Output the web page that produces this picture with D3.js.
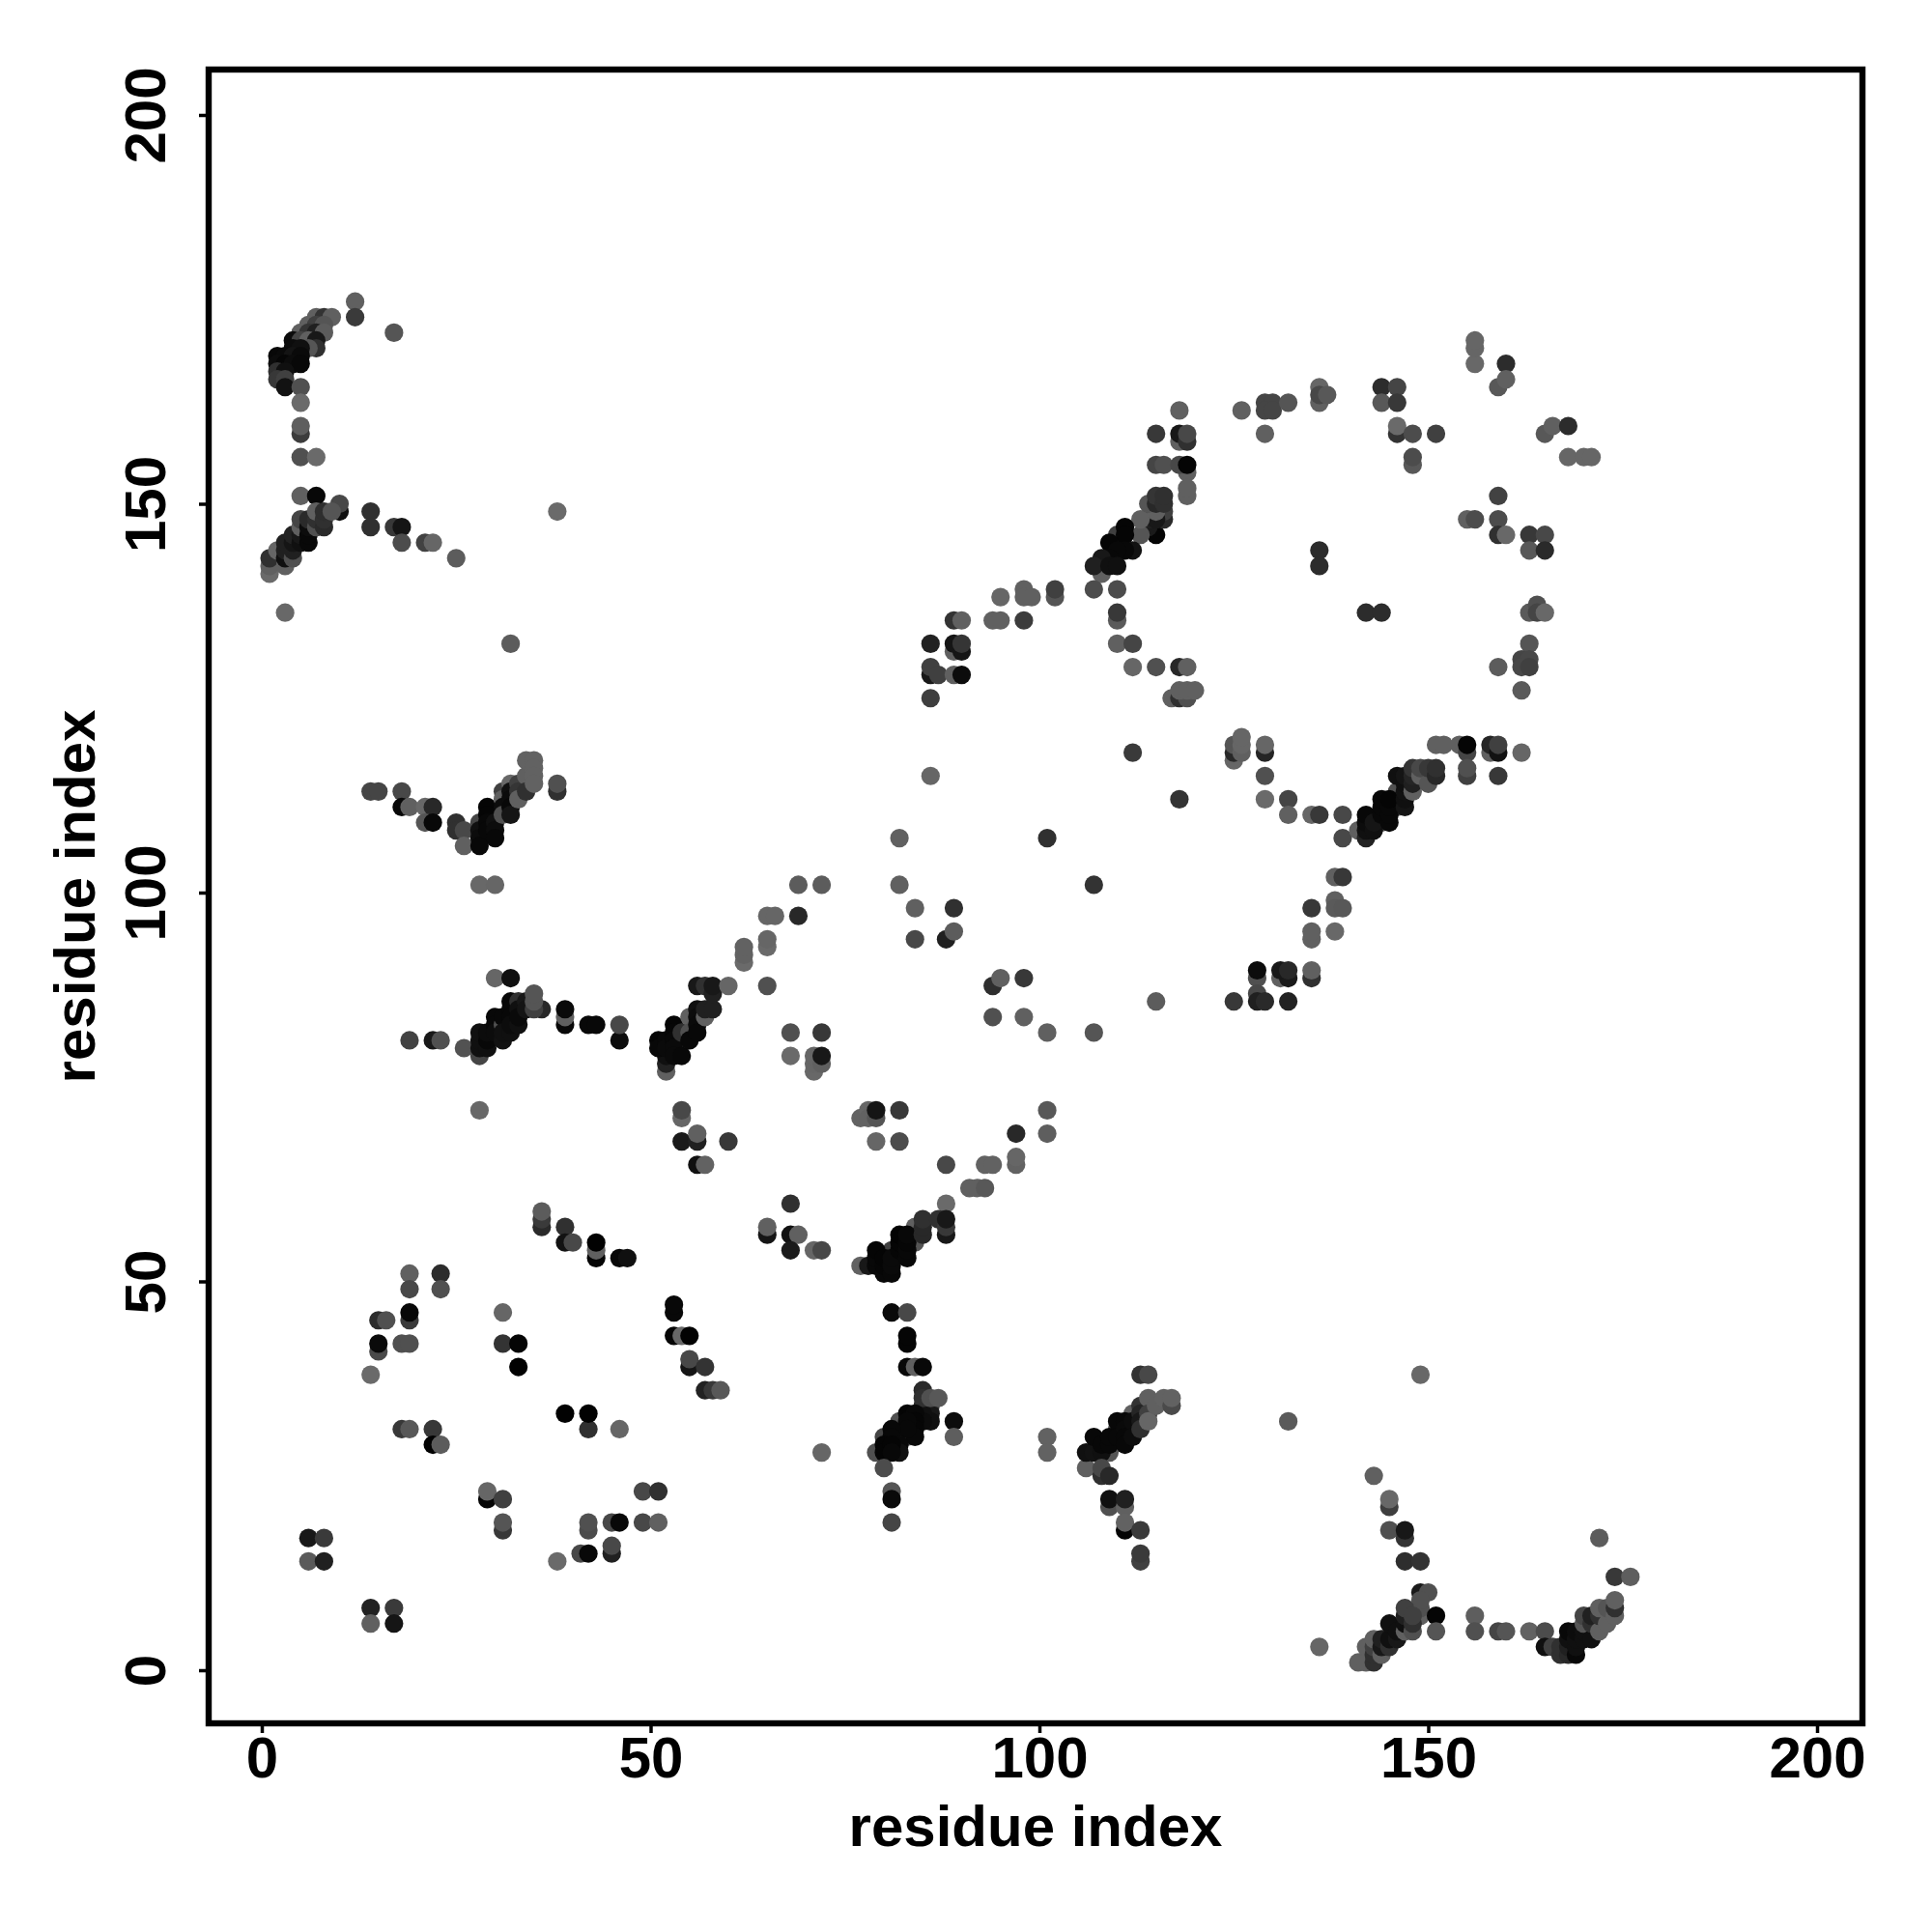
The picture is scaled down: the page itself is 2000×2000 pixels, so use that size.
<!DOCTYPE html>
<html>
<head>
<meta charset="utf-8">
<script src="https://cdn.jsdelivr.net/npm/d3@7"></script>
<style>html,body{margin:0;padding:0;background:#fff}svg{display:block}</style>
</head>
<body>
<div id="chart"></div>
<script>
// Each contact: [residue i, residue j, grey level of the dot]
const contactsTopLeft = [
[12,176,0x60],[12,174,0x3a],[17,172,0x55],[7,174,0x60],[8,174,0x33],[9,174,0x60],[6,173,0x60],[7,173,0x40],[8,173,0x55],
[5,172,0x60],[6,172,0x35],[7,172,0x20],[8,172,0x5c],[4,171,0x0c],[5,171,0x45],[6,171,0x60],[7,171,0x18],[7,170,0x30],[6,170,0x55],
[4,170,0x0c],[5,170,0x10],[2,169,0x08],[3,169,0x0a],[4,169,0x14],[5,169,0x0a],[2,168,0x0c],[3,168,0x06],[4,168,0x0c],[5,168,0x08],
[2,167,0x30],[3,167,0x10],[2,166,0x38],[3,166,0x40],[3,165,0x12],[5,165,0x50],[5,163,0x6a],[5,159,0x3c],[5,160,0x5e],[5,156,0x50],[7,156,0x6a],[5,151,0x60],[7,151,0x08],
[10,149,0x10],[10,150,0x48],[14,149,0x30],[14,147,0x30],[17,147,0x38],[18,147,0x15],[18,145,0x4c],[21,145,0x42],[22,145,0x66],[25,143,0x5c],[38,149,0x6a],[3,136,0x68],[32,132,0x5c],
[1,141,0x6a],[1,142,0x60],[1,143,0x30],[2,144,0x66],[3,142,0x60],[3,143,0x10],[3,144,0x20],[3,145,0x20],[4,143,0x50],[4,144,0x20],[4,145,0x15],[4,146,0x22],
[5,145,0x10],[5,146,0x18],[5,147,0x60],[5,148,0x45],[6,145,0x08],[6,146,0x08],[6,147,0x0c],[6,148,0x2a],[7,147,0x50],[7,148,0x30],[7,149,0x60],[8,147,0x2a],[8,148,0x30],[8,149,0x2e],[9,149,0x55]
];
const contactsUpperBand = [
[14,113,0x45],[15,113,0x45],[18,113,0x48],[18,111,0x08],[19,111,0x60],[21,111,0x68],[22,111,0x28],[21,109,0x55],[22,109,0x08],
[25,109,0x30],[25,108,0x30],[26,108,0x48],[26,106,0x60],[28,109,0x45],[28,108,0x10],[28,107,0x0c],[28,106,0x08],
[29,111,0x05],[29,110,0x05],[29,109,0x08],[29,108,0x08],[30,109,0x10],[30,108,0x0c],[30,107,0x08],[31,113,0x40],[31,112,0x60],[31,111,0x0c],[31,110,0x50],
[32,114,0x68],[32,113,0x10],[32,112,0x0c],[32,111,0x08],[32,110,0x15],[33,114,0x40],[33,113,0x35],[33,112,0x60],[34,115,0x60],[34,113,0x30],[34,117,0x62],[35,117,0x62],[35,116,0x62],[35,115,0x62],[35,114,0x62],
[38,113,0x30],[38,114,0x50],[28,101,0x68],[30,101,0x66]
];
const contactsMiddleBand = [
[19,81,0x42],[22,81,0x18],[23,81,0x50],[26,80,0x52],[28,79,0x45],[28,80,0x10],[28,81,0x10],[28,82,0x10],[29,80,0x10],[29,81,0x08],[29,82,0x0c],
[30,84,0x08],[30,83,0x08],[30,82,0x0c],[31,83,0x50],[31,84,0x08],[31,81,0x12],[31,82,0x10],[30,89,0x66],[32,89,0x10],[32,86,0x08],[32,85,0x08],[32,84,0x08],[32,82,0x10],[32,83,0x0c],
[33,86,0x30],[33,85,0x10],[33,83,0x10],[33,84,0x0a],[34,86,0x18],[34,85,0x14],[36,85,0x28],[35,85,0x40],[35,86,0x55],[35,87,0x55],
[39,83,0x08],[39,84,0x60],[39,85,0x0a],[42,83,0x08],[43,83,0x08],[46,81,0x0c],[46,83,0x48],
[52,77,0x60],[52,78,0x22],[52,79,0x10],[51,81,0x05],[51,80,0x08],[52,81,0x08],[52,80,0x0a],[53,83,0x05],[53,82,0x06],[53,81,0x08],[53,80,0x0a],[53,79,0x0a],[54,79,0x08],[54,82,0x30],
[55,84,0x60],[55,82,0x50],[55,81,0x08],[56,85,0x10],[56,84,0x0c],[56,83,0x0a],[56,82,0x08],[57,84,0x60],[57,85,0x20],[58,85,0x20],
[56,88,0x18],[57,88,0x30],[58,87,0x20],[58,88,0x18],[60,88,0x66],[62,91,0x6a],[62,92,0x62],[62,93,0x62],[65,93,0x6a],[65,94,0x66],[65,88,0x50],[65,97,0x66],[66,97,0x66],[69,97,0x28],[69,101,0x5c],[72,101,0x5c],
[68,82,0x50],[68,79,0x6a],[72,82,0x38],[71,77,0x68],[71,78,0x66],[71,79,0x66],[72,78,0x60],[72,79,0x18],
[28,72,0x68],[54,71,0x66],[54,72,0x48],[54,68,0x1a],[56,68,0x20],[56,69,0x60],[60,68,0x38],[56,65,0x10],[57,65,0x62]
];
const contactsMidCentre = [
[36,57,0x2a],[36,58,0x3a],[36,59,0x5c],[39,57,0x30],[39,55,0x12],[40,55,0x48],[43,53,0x05],[43,54,0x60],[43,55,0x02],[46,53,0x08],[47,53,0x10],
[68,60,0x30],[65,56,0x15],[65,57,0x60],[68,56,0x12],[69,56,0x60],[68,54,0x1a],[71,54,0x66],[72,54,0x48],
[77,71,0x62],[78,72,0x66],[78,71,0x62],[79,71,0x55],[79,72,0x15],[82,72,0x38],[79,68,0x66],[82,68,0x4c],[88,65,0x48],[93,65,0x62],[94,65,0x62],[97,69,0x28],[101,72,0x58],[101,69,0x5e],[97,65,0x62],[97,66,0x66],
[91,62,0x60],[92,62,0x60],[93,62,0x58],[88,60,0x6a],[77,52,0x62],[78,52,0x18],[81,54,0x40],[84,55,0x55],[84,57,0x60],[79,52,0x08],[79,53,0x08],[79,54,0x05],[80,51,0x08],[80,52,0x06],[80,53,0x05],[81,51,0x08],[81,52,0x0a],[81,53,0x0a],
[82,54,0x06],[82,55,0x05],[82,56,0x03],[83,53,0x08],[83,54,0x08],[83,55,0x06],[83,56,0x08],[85,56,0x28],[85,57,0x28],[85,58,0x30],[87,58,0x30],[88,56,0x18],[88,57,0x38],[88,58,0x18]
];
const contactsLowerLeft = [
[19,51,0x60],[23,51,0x2c],[19,49,0x48],[23,49,0x50],[19,45,0x3a],[19,46,0x08],[15,45,0x2c],[16,45,0x50],[15,41,0x4a],[15,42,0x0a],[18,42,0x50],[19,42,0x50],[14,38,0x6a],
[31,46,0x66],[31,42,0x33],[33,42,0x05],[33,39,0x02],[53,46,0x08],[53,47,0x08],[53,43,0x05],[54,43,0x68],[55,43,0x02],[55,39,0x15],[55,40,0x48],[57,39,0x33],[57,36,0x22],[58,36,0x38],[59,36,0x58],
[39,33,0x02],[42,31,0x30],[42,33,0x02],[46,31,0x66],[18,31,0x38],[19,31,0x58],[22,31,0x38],[22,29,0x02],[23,29,0x5c],[29,22,0x05],[29,23,0x66],[31,22,0x40],[31,18,0x38],[31,19,0x55],
[49,23,0x48],[51,23,0x30],[49,19,0x48],[51,19,0x60],[42,18,0x4c],[42,19,0x50],[45,19,0x48],[46,19,0x08],[45,15,0x20],[45,16,0x48],[41,15,0x48],[42,15,0x08],[38,14,0x6a],
[6,17,0x18],[8,17,0x3a],[6,14,0x5a],[8,14,0x20],[14,8,0x22],[17,8,0x3a],[14,6,0x60],[17,6,0x15]
];
const contactsLowerCentre = [
[81,46,0x0a],[83,46,0x48],[83,42,0x05],[83,43,0x05],[83,39,0x08],[84,39,0x60],[85,39,0x08],[85,36,0x2a],[85,34,0x30],[86,34,0x35],[86,33,0x18],[86,32,0x10],[85,33,0x10],[85,32,0x0c],[85,35,0x30],[86,35,0x50],[87,35,0x58],
[89,32,0x0c],[89,30,0x5e],[82,32,0x50],[83,30,0x55],[80,30,0x45],[79,28,0x50],[83,33,0x05],[84,33,0x08],[84,32,0x06],[84,31,0x06],[84,30,0x08],[83,32,0x08],[83,31,0x08],[81,31,0x08],[81,30,0x08],
[82,29,0x08],[82,28,0x10],[80,29,0x05],[80,28,0x05],[81,29,0x05],[81,28,0x08],[80,26,0x4c],[72,28,0x66],
[81,23,0x55],[81,22,0x0a],[81,19,0x45],[101,30,0x62],[101,28,0x62],[132,32,0x5a],
[106,26,0x60],[109,28,0x55],[110,31,0x50],[112,31,0x50],[112,33,0x60],[106,28,0x10],[107,28,0x12],[107,30,0x08],[108,28,0x10],[108,29,0x08],[108,25,0x30],[108,26,0x48],[109,25,0x28],[109,29,0x08],[109,30,0x08],
[110,32,0x08],[110,30,0x08],[111,32,0x08],[111,31,0x0a],[111,30,0x08],[111,29,0x08],[112,32,0x0c],[112,30,0x0c],
[113,34,0x33],[113,33,0x25],[113,32,0x18],[113,31,0x30],[114,35,0x60],[114,33,0x40],[114,32,0x66],[115,34,0x60],[116,35,0x62],[117,34,0x4a],[117,35,0x62],[113,38,0x33],[114,38,0x48],
[109,21,0x50],[109,22,0x10],[111,21,0x60],[111,22,0x20],[111,18,0x05],[111,19,0x62],[113,18,0x3a],[113,14,0x40],[113,15,0x3a]
];
const contactsLowerRight = [
[136,3,0x66],[143,25,0x60],[145,21,0x3e],[145,22,0x68],[145,18,0x50],[147,17,0x33],[147,18,0x18],[147,14,0x2e],[149,14,0x33],[149,10,0x1a],[150,10,0x50],[149,7,0x60],[149,8,0x50],[149,9,0x50],
[151,7,0x05],[151,5,0x55],[156,7,0x5e],[156,5,0x50],[159,5,0x45],[160,5,0x55],[163,5,0x62],[165,5,0x4c],[172,17,0x5c],[174,12,0x38],[176,12,0x5e],
[165,3,0x10],[166,3,0x40],[167,2,0x30],[167,3,0x30],[168,2,0x28],[168,3,0x20],[168,4,0x10],[168,5,0x08],[169,2,0x08],[169,3,0x10],[169,4,0x10],[169,5,0x0c],
[170,4,0x10],[170,5,0x10],[170,6,0x55],[170,7,0x45],[171,4,0x10],[171,6,0x30],[171,7,0x20],[172,5,0x60],[172,7,0x30],[172,8,0x60],[173,6,0x60],[173,8,0x55],[174,7,0x60],[174,8,0x30],[174,9,0x60],
[141,1,0x60],[142,1,0x60],[143,1,0x30],[142,3,0x60],[143,2,0x30],[143,3,0x40],[143,4,0x60],[144,2,0x60],[144,3,0x18],[144,4,0x20],[145,3,0x30],[145,4,0x10],[145,6,0x10],[146,4,0x18],[146,5,0x10],
[147,5,0x60],[147,6,0x10],[147,7,0x20],[147,8,0x40],[148,5,0x50],[148,6,0x30],[148,7,0x40]
];
const contactsRing = [
[118,162,0x60],[126,162,0x60],[129,163,0x45],[130,163,0x45],[129,162,0x45],[130,162,0x45],[132,163,0x55],[129,159,0x60],[136,165,0x66],[136,163,0x60],[136,164,0x48],[137,164,0x58],
[144,165,0x2c],[146,165,0x45],[144,163,0x58],[146,163,0x38],[146,159,0x33],[146,160,0x6a],[148,159,0x4c],[151,159,0x40],[148,155,0x58],[148,156,0x4c],
[156,168,0x68],[156,170,0x66],[156,171,0x66],[160,168,0x2c],[159,165,0x58],[160,166,0x60],[165,159,0x58],[166,160,0x60],[168,160,0x2c],[168,156,0x66],[170,156,0x66],[171,156,0x66],
[159,151,0x42],[155,148,0x60],[156,148,0x4c],[159,148,0x4c],[159,146,0x30],[160,146,0x68],[163,146,0x38],[165,146,0x48],[163,144,0x58],[165,144,0x2a],[136,144,0x2c],[136,142,0x2c],[142,136,0x2c],[144,136,0x2c],
[163,136,0x5a],[164,137,0x50],[164,136,0x45],[165,136,0x68],[163,132,0x55],[162,130,0x45],[163,130,0x48],[162,129,0x48],[163,129,0x40],[159,129,0x5c],[162,126,0x5a],
[118,158,0x60],[115,159,0x38],[118,159,0x18],[119,158,0x30],[119,159,0x48],[119,154,0x60],[115,155,0x45],[116,155,0x50],[118,155,0x48],[119,155,0x05],[119,151,0x60],[119,152,0x60],
[115,146,0x05],[116,148,0x2a],[116,149,0x40],[114,147,0x1a],[114,148,0x20],[115,148,0x18],[115,149,0x60],[113,146,0x55],[113,148,0x60],[114,150,0x55],[115,150,0x28],[115,151,0x35],[116,150,0x30],[116,151,0x30],
[110,146,0x40],[111,147,0x05],[111,146,0x05],[112,144,0x12],[111,144,0x08],[109,145,0x05],[110,144,0x08],[109,143,0x08],[108,141,0x60],[108,143,0x18],[107,142,0x20],[109,142,0x10],[110,142,0x10],
[102,138,0x55],[102,139,0x40],[107,139,0x4c],[110,139,0x4c],[110,135,0x5a],[110,136,0x38],[110,132,0x60],[112,132,0x45],[112,129,0x66],[115,129,0x50],[118,129,0x28],[119,129,0x60],
[117,125,0x60],[118,125,0x30],[119,125,0x50],[118,126,0x60],[119,126,0x60],[120,126,0x60],[112,118,0x3a],
[95,138,0x66],[98,139,0x60],[98,138,0x60],[99,138,0x60],[89,135,0x33],[90,135,0x60],[94,135,0x60],[95,135,0x60],[98,135,0x3c],
[86,132,0x22],[89,131,0x60],[90,131,0x15],[89,132,0x15],[90,132,0x35],[86,128,0x18],[86,129,0x40],[87,128,0x40],[89,128,0x60],[90,128,0x0c],[86,125,0x3e],
[125,117,0x66],[125,118,0x28],[125,119,0x55],[126,118,0x60],[126,119,0x66],[126,120,0x66],[129,118,0x25],[129,119,0x66],[129,115,0x50],[129,112,0x6a],[132,112,0x45],[132,110,0x60],[135,110,0x66],[136,110,0x38],[139,110,0x48],[139,107,0x48],
[141,108,0x60],[144,109,0x50],[146,111,0x50],[146,113,0x50],[142,107,0x22],[142,108,0x10],[142,109,0x0c],[142,110,0x08],[143,108,0x10],[143,109,0x15],[144,110,0x08],[144,111,0x08],[144,112,0x08],[145,109,0x08],[145,110,0x08],[145,111,0x08],[145,112,0x05],
[146,115,0x10],[147,111,0x15],[147,112,0x10],[147,113,0x12],[147,114,0x10],[147,115,0x15],[148,113,0x60],[148,114,0x20],[148,115,0x25],[148,116,0x35],[149,115,0x60],[149,116,0x48],[150,114,0x55],[150,116,0x38],[151,115,0x28],[151,116,0x30],
[151,119,0x60],[152,119,0x60],[154,119,0x60],[155,118,0x45],[155,119,0x05],[155,115,0x40],[155,116,0x50],[158,118,0x60],[158,119,0x25],[159,118,0x12],[159,119,0x40],[162,118,0x66],[159,115,0x38],
[138,102,0x60],[139,102,0x38],[135,98,0x38],[138,99,0x60],[138,98,0x5a],[139,98,0x58],[135,94,0x60],[135,95,0x60],[138,95,0x68],[135,89,0x30],[135,90,0x60],
[131,89,0x60],[132,89,0x1a],[131,90,0x18],[132,90,0x28],[128,89,0x50],[128,90,0x0c],[125,86,0x38],[128,87,0x48],[128,86,0x20],[129,86,0x2a],[132,86,0x22]
];
const contactsCentreScatter = [
[86,115,0x66],[82,107,0x60],[82,101,0x60],[84,98,0x60],[89,98,0x30],[84,94,0x48],[88,94,0x20],[89,95,0x5c],[94,88,0x2e],[95,89,0x60],[98,89,0x38],[94,84,0x50],[98,84,0x60],
[101,82,0x60],[107,82,0x55],[115,86,0x5c],[101,107,0x30],[107,101,0x33],[118,112,0x33],[149,38,0x68]
];
const tickValues = [0, 50, 100, 150, 200];
const axisTitle = "residue index";

const contacts = [].concat(contactsTopLeft, contactsUpperBand, contactsMiddleBand, contactsMidCentre,
  contactsLowerLeft, contactsLowerCentre, contactsLowerRight, contactsRing, contactsCentreScatter);

const frame = {left: 216, top: 72, right: 1928, bottom: 1784};
const font = '"Liberation Sans", Arial, sans-serif';

const x = d3.scaleLinear().domain([0, 200]).range([271, 1881]);
const y = d3.scaleLinear().domain([0, 200]).range([1729, 119]);

const svg = d3.select("#chart").append("svg").attr("width", 2000).attr("height", 2000);
svg.append("rect").attr("width", 2000).attr("height", 2000).attr("fill", "#fff");

svg.append("g").selectAll("circle").data(contacts).join("circle")
  .attr("cx", d => x(d[0])).attr("cy", d => y(d[1])).attr("r", 9.6)
  .attr("fill", d => d3.rgb(d[2], d[2], d[2]));

svg.append("rect")
  .attr("x", frame.left).attr("y", frame.top)
  .attr("width", frame.right - frame.left).attr("height", frame.bottom - frame.top)
  .attr("fill", "none").attr("stroke", "#000").attr("stroke-width", 6.4);

const xAxis = svg.append("g").attr("transform", `translate(0,${frame.bottom})`)
  .call(d3.axisBottom(x).tickValues(tickValues).tickSize(10).tickPadding(0).tickFormat(d3.format("d")));
const yAxis = svg.append("g").attr("transform", `translate(${frame.left},0)`)
  .call(d3.axisLeft(y).tickValues(tickValues).tickSize(10).tickPadding(0).tickFormat(d3.format("d")));
[xAxis, yAxis].forEach(a => {
  a.select(".domain").remove();
  a.selectAll(".tick line").attr("stroke", "#000").attr("stroke-width", 3.5);
  a.selectAll("text").attr("fill", "#000").style("font-family", font).style("font-size", "60px").style("font-weight", "700");
});
xAxis.selectAll("text").attr("dy", null).attr("y", 56).attr("text-anchor", "middle");
yAxis.selectAll("text").attr("dy", null).attr("x", null).attr("text-anchor", "middle")
  .attr("transform", `translate(${171 - frame.left},0) rotate(-90)`);

svg.append("text").text(axisTitle)
  .attr("x", (frame.left + frame.right) / 2).attr("y", 1911).attr("text-anchor", "middle")
  .style("font-family", font).style("font-size", "60px").style("font-weight", "700");
svg.append("text").text(axisTitle)
  .attr("text-anchor", "middle")
  .attr("transform", `translate(98,${(frame.top + frame.bottom) / 2}) rotate(-90)`)
  .style("font-family", font).style("font-size", "60px").style("font-weight", "700");
</script>
</body>
</html>
